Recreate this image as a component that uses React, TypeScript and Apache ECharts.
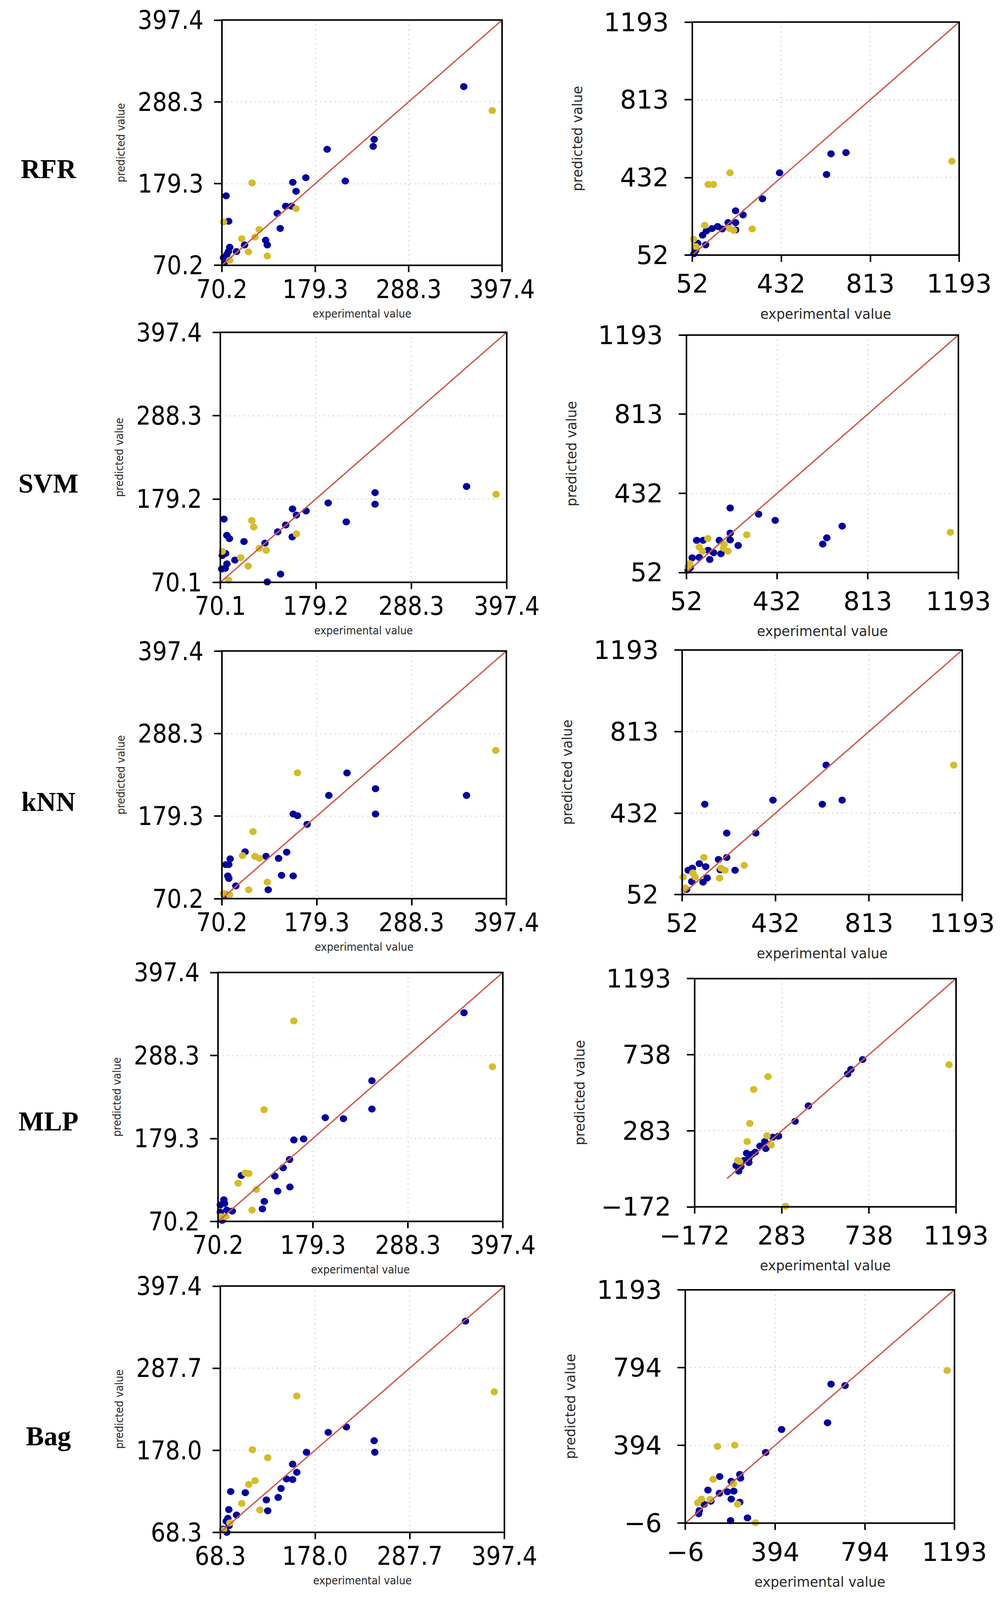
import { useEffect, useRef, useState } from 'react';
import * as echarts from 'echarts';

type Pt = [number, number];

const rowNames = ['RFR', 'SVM', 'kNN', 'MLP', 'Bag'];

// tick values, left column (smaller range) and right column, one row per model
const leftTicks = [
  [70.2, 179.3, 288.3, 397.4],
  [70.1, 179.2, 288.3, 397.4],
  [70.2, 179.3, 288.3, 397.4],
  [70.2, 179.3, 288.3, 397.4],
  [68.3, 178.0, 287.7, 397.4],
];
const rightTicks = [
  [52, 432, 813, 1193],
  [52, 432, 813, 1193],
  [52, 432, 813, 1193],
  [-172, 283, 738, 1193],
  [-6, 394, 794, 1193],
];
// start / end of the y = x line in the right column
const rightDiagonal = [
  [52, 1193],
  [52, 1193],
  [52, 1193],
  [-3, 1193],
  [-6, 1193],
];

// RFR
const rfrLeftTrain: Pt[] = [
  [352.7, 308.6], [248, 238.2], [246.9, 228.8], [193.1, 225], [168.2, 187.1], [214.3, 182.7],
  [153, 181], [156.8, 168.9], [75.1, 162.9], [144.7, 149.1], [151.5, 149.1], [134.9, 139.5],
  [78.1, 129], [138.3, 119.4], [121.3, 103.7], [123.2, 97.4], [96.7, 97.4], [79.3, 94.3],
  [87.2, 88.6], [77.8, 88.6], [75.9, 84.5], [72.1, 80.4], [73.7, 74.9],
];
const rfrLeftTest: Pt[] = [
  [386, 276.7], [105.4, 180.2], [156.8, 145.8], [72.1, 128], [113.7, 118], [108.8, 107.9],
  [93.3, 105.7], [101.2, 88.1], [123.2, 82.6], [79.3, 76.8],
];
const rfrRightTrain: Pt[] = [
  [709, 554], [645, 548], [626, 447], [425, 455], [352, 328], [237, 269], [269, 249],
  [237, 211], [205, 211], [237, 175], [180, 180], [160, 192], [136, 182], [112, 170],
  [96, 150], [109, 102], [75, 110], [66, 74], [59, 59],
];
const rfrRightTest: Pt[] = [
  [1162, 512], [213, 455], [120, 398], [142, 398], [105, 198], [211, 183], [229, 173],
  [308, 180], [57, 130], [68, 94],
];

// SVM
const svmLeftTrain: Pt[] = [
  [351.5, 195.6], [246.9, 187.5], [246.9, 172.4], [193.3, 174], [214, 149.2], [168.1, 163.5],
  [152.6, 166.2], [157, 158.1], [144.8, 145.1], [135.6, 136.2], [152.2, 129.5], [74.2, 152.9],
  [77.5, 131.6], [80.5, 127.3], [97.1, 123.5], [121.1, 121.4], [76.1, 107.9], [72.3, 105.2],
  [86.7, 99.2], [77.6, 94.3], [75.6, 88.4], [71.6, 87.6], [138.9, 80.9], [123.7, 70.6],
];
const svmLeftTest: Pt[] = [
  [385.2, 185.3], [106, 151.1], [108.2, 142.5], [157, 133.5], [114.5, 114.6], [122.6, 111.9],
  [72.3, 110.5], [93.4, 102.4], [101.9, 91.4], [79.6, 72.8],
];
const svmRightTrain: Pt[] = [
  [235.5, 361.7], [354.7, 332], [424.3, 302.4], [705.5, 274.7], [641, 218.3], [623.8, 188.6],
  [235.5, 241], [235.5, 208.4], [190, 206.4], [269, 181.6], [94.9, 206.4], [121.6, 206.4],
  [143, 158.9], [165.8, 147], [196.6, 142], [149.8, 114.3], [105.6, 124.2], [76, 122.3],
  [68, 74.8], [58.7, 62.9],
];
const svmRightTest: Pt[] = [
  [1159.5, 245], [305, 233], [141.7, 215.2], [105.6, 173.7], [119, 153.9], [210, 185.6],
  [207.5, 168.8], [226, 154], [66.1, 94.6], [59, 79.7],
];

// kNN
const knnLeftTrain: Pt[] = [
  [351.6, 206.6], [214.1, 236.3], [246.9, 215.5], [246.9, 182], [193.2, 206.6], [152.2, 182],
  [157.1, 179.8], [168.2, 168.4], [144.7, 131.6], [135.4, 123.4], [120.9, 126.1], [96.9, 132.1],
  [79.7, 122.8], [74.7, 115.2], [78.1, 115.2], [77, 100.2], [78.1, 96.9], [86.2, 87.1],
  [138.8, 101], [152.2, 100.2], [123.5, 81.9], [74, 75.7],
];
const knnLeftTest: Pt[] = [
  [385.2, 266], [157.1, 236.5], [106, 158.8], [93.9, 127], [108.2, 126.1], [113.4, 123.4],
  [122.4, 92], [101, 81.9], [79, 75.1], [72, 77],
];
const knnRightTrain: Pt[] = [
  [638.7, 656], [422, 492.6], [703.6, 492.6], [623, 473.4], [144.2, 473.4], [233.7, 338.7],
  [351.8, 338.7], [233.7, 225.2], [200, 215.6], [267.5, 165.5], [122, 196.3], [148, 181.9],
  [93.5, 175.2], [76.7, 165.5], [153.8, 129], [137, 109.7], [91, 112.6], [70, 76], [207, 167.5],
];
const knnRightTest: Pt[] = [
  [1158, 656], [140.3, 225.2], [305, 188.6], [210.4, 175.2], [226, 165.5], [204.3, 129],
  [95.6, 153], [104.8, 133.8], [55.9, 133.8], [64.9, 82.8],
];

// MLP
const mlpLeftTrain: Pt[] = [
  [352.8, 344.5], [247, 255.1], [247, 217.9], [193.4, 206.6], [214.3, 205.2], [168.5, 178.6],
  [157.3, 177.3], [152.4, 151.5], [145, 140.7], [135.4, 129.8], [97, 130.6], [152.8, 115.5],
  [138.7, 110], [123.4, 96.5], [121.2, 86.7], [76.9, 98.7], [77.7, 93.8], [72.8, 91.9],
  [80.3, 85.1], [86.6, 83.8], [72.8, 82.4], [75, 71.6],
];
const mlpLeftTest: Pt[] = [
  [157.3, 333.7], [385.5, 273.5], [123.1, 217.1], [101.5, 133.9], [105.6, 133.2], [93.4, 120.4],
  [114.3, 112.2], [109.3, 85.1], [79.1, 76.4], [73.5, 76.4],
];
const mlpRightTrain: Pt[] = [
  [705.3, 708.9], [643.7, 649.7], [627, 622.6], [422.3, 431.7], [352.4, 339.3], [265.8, 250.6],
  [235.8, 244.4], [194.2, 218.5], [169.2, 191.4], [199.2, 176.6], [144.3, 154.5], [127.7, 142.1],
  [99.4, 148.3], [111, 117.5], [86, 105.2], [111, 92.8], [44.4, 74.3], [69.4, 68.3], [57.7, 41.2],
];
const mlpRightTest: Pt[] = [
  [1156.5, 678], [210.9, 606.6], [136, 530.2], [116, 327], [205.9, 253], [227.5, 197.6],
  [102.6, 218.5], [52.7, 105.2], [62.7, 99], [302.5, -168.3],
];

// Bag
const bagLeftTrain: Pt[] = [
  [352.3, 350.5], [214.3, 209.1], [193.3, 201.9], [246.5, 190.7], [247.3, 175.3], [168.1, 175.3],
  [152, 159.4], [156.9, 148.5], [145, 139.6], [152, 138.8], [138.6, 126.9], [135.3, 114.9],
  [121.6, 111.6], [123.2, 97.1], [97.2, 121.3], [80.3, 122.8], [78.1, 98.7], [87.1, 91.4],
  [77, 87], [75.1, 83.1], [78.4, 77.2], [71.3, 72.5], [75.8, 68.3],
];
const bagLeftTest: Pt[] = [
  [385.7, 256.1], [156.9, 250.5], [105.4, 178.7], [123.2, 168], [108.5, 137.3], [101.3, 132.3],
  [93.1, 106.9], [114.1, 98.2], [79.2, 80.9], [72, 71.1],
];
const bagRightTrain: Pt[] = [
  [643.2, 708.4], [705.7, 700.9], [627.6, 509.7], [423, 475.3], [352, 357.1], [236.9, 244.3],
  [239.8, 224.9], [147.4, 233.6], [198.6, 208.9], [94.9, 163.8], [146, 147.6], [181.5, 155.2],
  [210, 158.4], [198.6, 117.6], [236.9, 101.4], [107.7, 106.8], [77.8, 90.7], [56.5, 58.5],
  [53.7, 42.4], [271, 20.9], [195.7, 7],
];
const bagRightTest: Pt[] = [
  [1160.4, 778.3], [137.5, 388.3], [214.2, 394.7], [117.6, 219.6], [208.5, 196], [66.6, 117.6],
  [49.4, 98.3], [105, 115.5], [227.2, 91.4], [306.6, -3.9],
];

const leftTrain = [rfrLeftTrain, svmLeftTrain, knnLeftTrain, mlpLeftTrain, bagLeftTrain];
const leftTest = [rfrLeftTest, svmLeftTest, knnLeftTest, mlpLeftTest, bagLeftTest];
const rightTrain = [rfrRightTrain, svmRightTrain, knnRightTrain, mlpRightTrain, bagRightTrain];
const rightTest = [rfrRightTest, svmRightTest, knnRightTest, mlpRightTest, bagRightTest];

// layout, designed for a 2580 x 4704 page: plot boxes [left, top, width, height]
const FULL_W = 2580;
const FULL_H = 4704;
const leftBoxes = [
  [568, 59, 717, 721],
  [564, 977, 733, 735],
  [568, 1914, 728, 728],
  [558, 2859, 729, 732],
  [564, 3781, 727, 724],
];
const rightBoxes = [
  [1772, 65, 683, 685],
  [1757, 985, 696, 698],
  [1746, 1911, 717, 719],
  [1778, 2877, 669, 671],
  [1754, 3792, 689, 686],
];
const labelY = [497, 1421, 2357, 3297, 4222];

const TRAIN_COLOR = '#00009c';
const TEST_COLOR = '#d4bc2a';
const LINE_COLOR = '#cf5a4e';

const leftStyle = {
  font: "'DejaVu Sans Condensed', 'DejaVu Sans', sans-serif",
  nameSize: 31,
  xMargin: 32,
  yMargin: 47,
  xNameGap: 125,
  yNameGap: 245,
  decimals: 1,
};
const rightStyle = {
  font: "'DejaVu Sans', sans-serif",
  nameSize: 37,
  xMargin: 47,
  yMargin: 60,
  xNameGap: 153,
  yNameGap: 277,
  decimals: 0,
};

function fmt(v: number, decimals: number) {
  const s = v.toFixed(decimals);
  return s.replace('-', '\u2212');
}

// the browser may give less height than asked for; squeeze vertically to fit
function pageHeight() {
  const h = window.innerHeight || FULL_H;
  return Math.min(FULL_H, h);
}

export default function App() {
  const chartRef = useRef<HTMLDivElement>(null);
  const [height] = useState(pageHeight);

  useEffect(() => {
    if (!chartRef.current) return;
    const chart = echarts.init(chartRef.current, undefined, { renderer: 'svg' });

    const sy = height / FULL_H;
    const fs = (1 + sy) / 2;

    const panels: any[] = [];
    for (let r = 0; r < 5; r++) {
      panels.push({
        box: leftBoxes[r], ticks: leftTicks[r], style: leftStyle,
        train: leftTrain[r], test: leftTest[r],
        diag: [leftTicks[r][0], leftTicks[r][3]],
      });
      panels.push({
        box: rightBoxes[r], ticks: rightTicks[r], style: rightStyle,
        train: rightTrain[r], test: rightTest[r],
        diag: rightDiagonal[r],
      });
    }

    const axisCommon = (p: any, isX: boolean) => ({
      type: 'value',
      gridIndex: panels.indexOf(p),
      min: p.ticks[0],
      max: p.ticks[3],
      name: isX ? 'experimental value' : 'predicted value',
      nameLocation: 'middle',
      nameGap: isX ? p.style.xNameGap * sy : p.style.yNameGap,
      nameTextStyle: { fontSize: p.style.nameSize * fs, color: '#262626', fontFamily: p.style.font },
      axisLine: { show: false, onZero: false },
      axisTick: {
        show: true, inside: false, length: isX ? 20 * sy : 20,
        customValues: p.ticks,
        lineStyle: { color: '#000', width: 4 },
      },
      axisLabel: {
        customValues: p.ticks,
        margin: isX ? p.style.xMargin * sy : p.style.yMargin,
        fontSize: 70 * fs,
        color: '#000',
        fontFamily: p.style.font,
        formatter: (v: number) => fmt(v, p.style.decimals),
      },
      splitLine: {
        show: true,
        showMinLine: false,
        showMaxLine: false,
        lineStyle: { color: '#d4d4d4', width: 3, type: [3, 9] },
      },
    });

    const dot = [19, 19 * fs];
    const series: any[] = [];
    panels.forEach((p, i) => {
      series.push({
        type: 'scatter', xAxisIndex: i, yAxisIndex: i, data: p.train,
        symbolSize: dot, itemStyle: { color: TRAIN_COLOR, opacity: 1 }, silent: true, z: 2,
      });
      series.push({
        type: 'scatter', xAxisIndex: i, yAxisIndex: i, data: p.test,
        symbolSize: dot, itemStyle: { color: TEST_COLOR, opacity: 1 }, silent: true, z: 3,
      });
      series.push({
        type: 'line', xAxisIndex: i, yAxisIndex: i,
        data: [[p.diag[0], p.diag[0]], [p.diag[1], p.diag[1]]],
        symbol: 'none', lineStyle: { color: LINE_COLOR, width: 3.5 }, silent: true, z: 4,
      });
    });

    const graphic: any[] = [];
    panels.forEach((p) => {
      graphic.push({
        type: 'rect', z: 50, silent: true,
        shape: { x: p.box[0], y: p.box[1] * sy, width: p.box[2], height: p.box[3] * sy },
        style: { fill: 'none', stroke: '#000', lineWidth: 4 },
      });
    });
    rowNames.forEach((name, r) => {
      graphic.push({
        type: 'text', x: 124, y: labelY[r] * sy, z: 50, silent: true,
        style: {
          text: name, fill: '#000', fontSize: 74 * fs, fontWeight: 'bold',
          fontFamily: "'Liberation Serif', 'DejaVu Serif', serif",
          align: 'center', verticalAlign: 'middle',
        },
      });
    });

    chart.setOption({
      animation: false,
      backgroundColor: '#fff',
      grid: panels.map((p) => ({
        left: p.box[0], top: p.box[1] * sy, width: p.box[2], height: p.box[3] * sy,
        containLabel: false, show: false,
      })),
      xAxis: panels.map((p) => axisCommon(p, true)),
      yAxis: panels.map((p) => axisCommon(p, false)),
      series,
      graphic,
    });

    return () => {
      chart.dispose();
    };
  }, [height]);

  return (
    <div
      ref={chartRef}
      style={{ position: 'absolute', left: 0, top: 0, width: FULL_W + 'px', height: height + 'px', background: '#fff' }}
    ></div>
  );
}
